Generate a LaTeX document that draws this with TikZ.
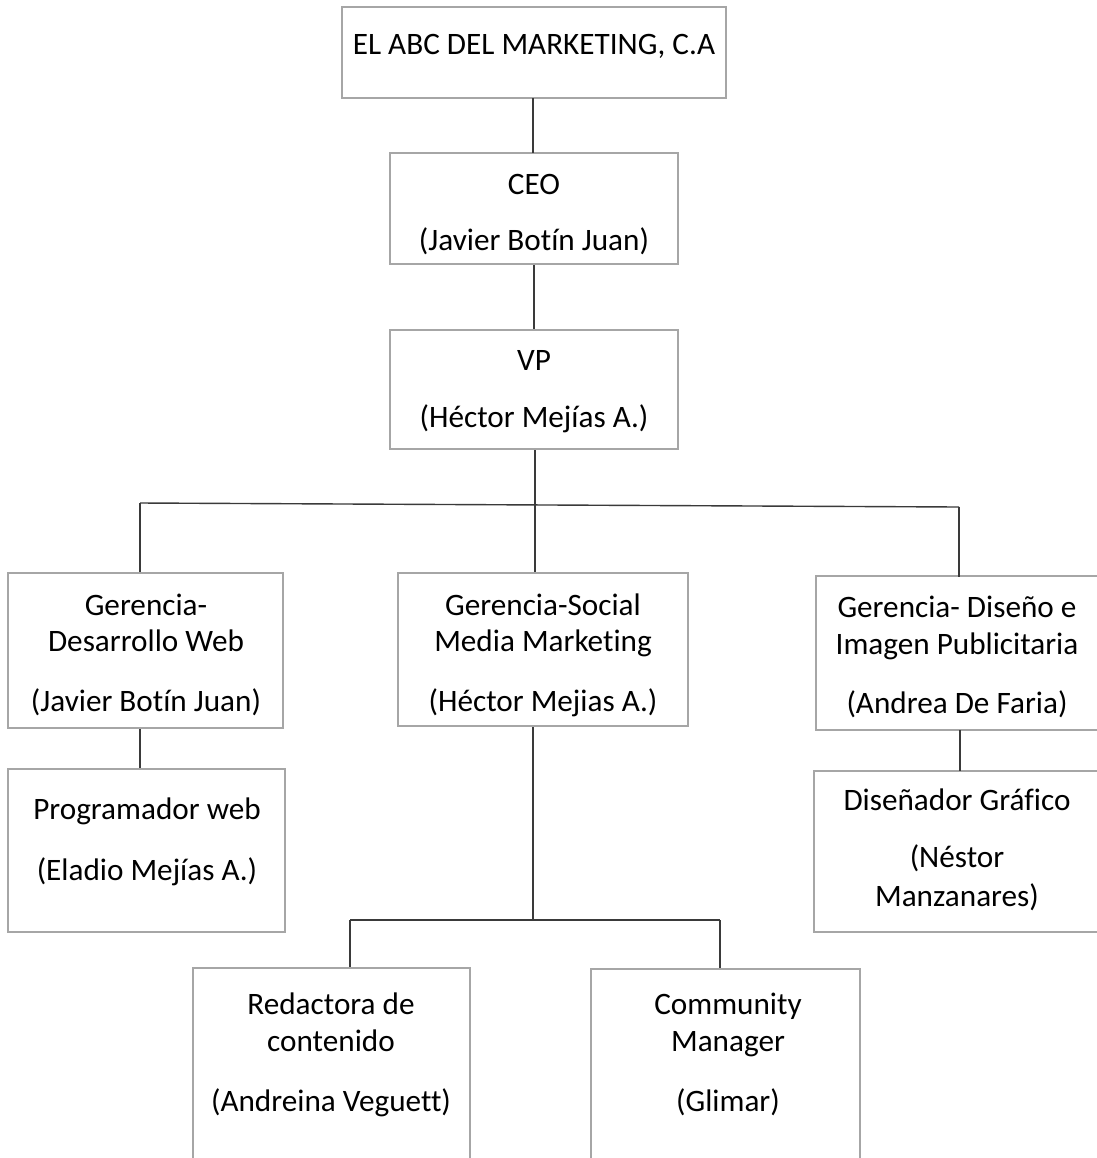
\documentclass[tikz,border=0pt]{standalone}
\usepackage{fontspec}
\setmainfont{Carlito}[Ligatures={NoCommon}]
\usetikzlibrary{fit}
\definecolor{boxgray}{HTML}{A6A6A6}
\definecolor{conngray}{HTML}{3A3A3A}
\begin{document}
\begin{tikzpicture}[x=0.5pt,y=-0.5pt,
  box/.style={draw=boxgray, line width=1.3pt, inner sep=0pt, fill=white},
  conn/.style={draw=conngray, line width=0.7pt},
  txt/.style={anchor=base, inner sep=0pt, font=\fontsize{15.6}{18}\selectfont}]
\clip (0,0) rectangle (1097,1158);
\fill[white] (0,0) rectangle (1097,1158);

% boxes
\node[box, fit={(342,7) (726,98)}] (top) {};
\node[box, fit={(390,153) (678,264)}] (ceo) {};
\node[box, fit={(390,330) (678,449)}] (vp) {};
\node[box, fit={(8,573) (283,728)}] (gweb) {};
\node[box, fit={(8,769) (285,932)}] (prog) {};
\node[box, fit={(398,573) (688,726)}] (gsmm) {};
\node[box, fit={(816,576) (1104,730)}] (gdis) {};
\node[box, fit={(814,771) (1104,932)}] (disg) {};
\node[box, fit={(193,968) (470,1164)}] (red) {};
\node[box, fit={(591,969) (860,1164)}] (cm) {};

% junction coordinates
\coordinate (jl) at (140,503);
\coordinate (jm) at (535,505);
\coordinate (jr) at (959,507);
\coordinate (kl) at (350,920);
\coordinate (km) at (533,920);
\coordinate (kr) at (720,920);

% connectors
\draw[conn] (533,98) -- (533,153);
\draw[conn] (ceo.south) -- (ceo.south |- vp.north);
\draw[conn] (jm |- vp.south) -- (jm);
\draw[conn] (jl) -- (jr);
\draw[conn] (jl) -- (jl |- gweb.north);
\draw[conn] (jm) -- (jm |- gsmm.north);
\draw[conn] (jr) -- ([yshift=-1pt]jr |- gdis.north);
\draw[conn] (jl |- gweb.south) -- (jl |- prog.north);
\draw[conn] (960,730) -- (960,771);
\draw[conn] (km |- gsmm.south) -- (km);
\draw[conn] (kl) -- (kr);
\draw[conn] (kl) -- (kl |- red.north);
\draw[conn] (kr) -- (kr |- cm.north);

% texts
\node[txt] (t1) at (534,54) {EL ABC DEL MARKETING, C.A};
\node[txt] (t2a) at (534,194) {CEO};
\node[txt] (t2b) at (534,250) {(Javier Botín Juan)};
\node[txt] (t3a) at (534,370) {VP};
\node[txt] (t3b) at (534,427) {(Héctor Mejías A.)};
\node[txt] (t4a) at (146,615) {Gerencia-};
\node[txt] (t4b) at (146,651) {Desarrollo Web};
\node[txt] (t4c) at (146,711) {(Javier Botín Juan)};
\node[txt] (t5a) at (147,819) {Programador web};
\node[txt] (t5b) at (147,880) {(Eladio Mejías A.)};
\node[txt] (t6a) at (543,615) {Gerencia-Social};
\node[txt] (t6b) at (543,651) {Media Marketing};
\node[txt] (t6c) at (543,711) {(Héctor Mejias A.)};
\node[txt] (t7a) at (957,617) {Gerencia- Diseño e};
\node[txt] (t7b) at (957,654) {Imagen Publicitaria};
\node[txt] (t7c) at (957,713) {(Andrea De Faria)};
\node[txt] (t8a) at (957,810) {Diseñador Gráfico};
\node[txt] (t8b) at (957,867) {(Néstor};
\node[txt] (t8c) at (957,906) {Manzanares)};
\node[txt] (t9a) at (331,1014) {Redactora de};
\node[txt] (t9b) at (331,1051) {contenido};
\node[txt] (t9c) at (331,1111) {(Andreina Veguett)};
\node[txt] (t10a) at (728,1014) {Community};
\node[txt] (t10b) at (728,1051) {Manager};
\node[txt] (t10c) at (728,1111) {(Glimar)};
\end{tikzpicture}
\end{document}
